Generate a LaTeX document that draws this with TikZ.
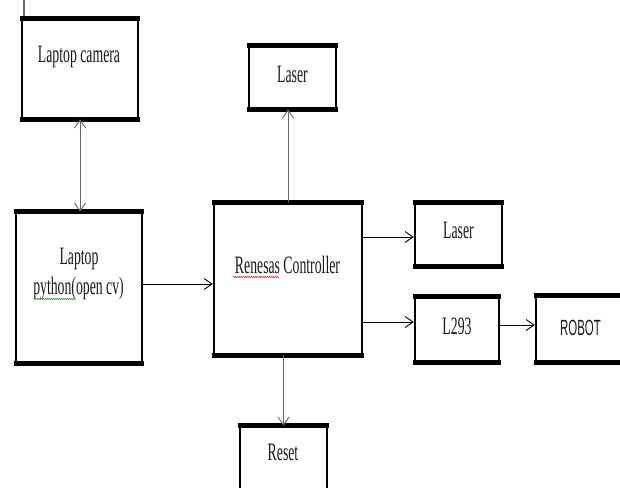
\documentclass[tikz,border=0pt]{standalone}
\usepackage{fontspec}
\setmainfont{Liberation Serif}
\newfontfamily\arialfont{Liberation Sans}
\usetikzlibrary{arrows.meta,decorations.pathmorphing}
\begin{document}
\begin{tikzpicture}[x=1pt,y=-1pt,
  blk/.style={draw=black, line width=2.4pt, inner sep=0pt},
  thickedge/.style={line width=5pt, shorten <=-1.2pt, shorten >=-1.2pt},
  txt/.style={anchor=base, inner sep=0pt, xscale=0.55, text=black!90,
    font=\fontsize{25}{28}\selectfont},
  sanstxt/.style={anchor=base, inner sep=0pt, xscale=0.52, text=black!90,
    font=\arialfont\fontsize{22}{26}\selectfont},
  tip/.tip={Straight Barb[length=8pt,width=11pt]},
  arr/.style={-tip, line width=0.9pt, black},
  garr/.style={-tip, line width=0.9pt, black!60},
]
\useasboundingbox (0,0) rectangle (620,487);
% boxes
\node[blk, minimum width=116pt, minimum height=98pt] (cam) at (80,69) {};
\node[blk, minimum width=126pt, minimum height=149pt] (py) at (79,287.5) {};
\node[blk, minimum width=148pt, minimum height=150pt] (ren) at (288,279) {};
\node[blk, minimum width=87pt, minimum height=61pt] (tlaser) at (292.5,77.5) {};
\node[blk, minimum width=87pt, minimum height=61pt] (rlaser) at (458.5,234.5) {};
\node[blk, minimum width=84pt, minimum height=64pt] (l293) at (457,329.5) {};
\node[blk, minimum width=104pt, minimum height=64pt] (robot) at (588,329) {};
\node[blk, minimum width=87pt, minimum height=63pt] (reset) at (283.5,458.5) {};
\foreach \n in {cam,py,ren,tlaser,rlaser,l293,robot,reset}{
  \draw[thickedge] (\n.north west) -- (\n.north east);
  \draw[thickedge] (\n.south west) -- (\n.south east);
}
% texts
\node[txt] (tcam) at (79,62) {Laptop camera};
\node[txt] (tpy1) at (79,264) {Laptop};
\node[txt] (tpy2) at (78.5,294) {python(open cv)};
\node[txt] (tren) at (287.5,273) {Renesas Controller};
\node[txt] (ttl) at (292.5,82) {Laser};
\node[txt] (trl) at (458.5,238) {Laser};
\node[txt] (tl2) at (457,334) {L293};
\node[sanstxt] (tro) at (580.5,335) {ROBOT};
\node[txt] (tre) at (283,460) {Reset};
% spell-check underlines
\draw[green!60!black!70, line width=0.8pt, decorate,
  decoration={zigzag, amplitude=0.6pt, segment length=2pt}] (35,299) -- (75,299);
\draw[red!70, line width=0.8pt, decorate,
  decoration={zigzag, amplitude=0.6pt, segment length=2pt}] (233,277) -- (279,277);
% small tick at top left
\coordinate (tick) at (24,0);
\draw[black!60, line width=1.2pt] (tick) -- ++(0,16);
% connectors
\draw[garr, tip-tip] (cam.south) -- (cam.south |- py.north);
\draw[arr] (py.east |- 0,284) -- (ren.west |- 0,284);
\draw[garr] (ren.north) -- (tlaser.south -| ren.north);
\draw[arr] (ren.east |- 0,237) -- (rlaser.west |- 0,237);
\draw[arr] (ren.east |- 0,322) -- (l293.west |- 0,322);
\draw[arr] (l293.east |- 0,325) -- (robot.west |- 0,325);
\draw[garr] (ren.south -| reset.north) -- (reset.north);
\end{tikzpicture}
\end{document}
